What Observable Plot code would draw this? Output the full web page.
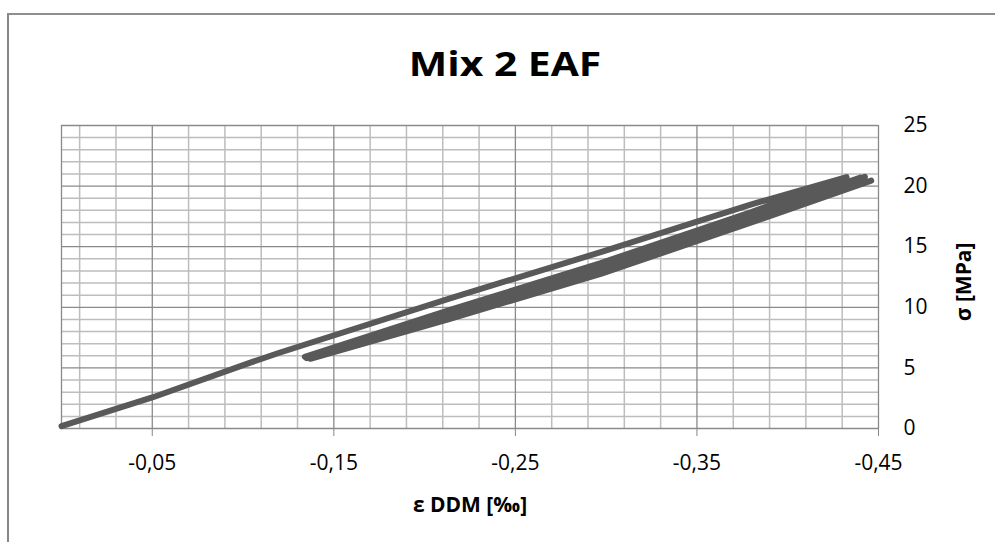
<!DOCTYPE html>
<html>
<head>
<meta charset="utf-8">
<script src="https://cdn.jsdelivr.net/npm/d3@7"></script>
<script src="https://cdn.jsdelivr.net/npm/@observablehq/plot@0.6"></script>
<style>
  html, body { margin: 0; padding: 0; background: #fff; overflow: hidden; width: 995px; height: 542px; }
  #frame { position: absolute; left: 7px; top: 13px; width: 1000px; height: 540px;
           border-left: 2px solid #878787; border-top: 2px solid #8e8e8e; z-index: 2; pointer-events: none; }
  #title { height: 100px; position: relative; }
  #title span { position: absolute; left: 505px; top: 46px; transform: translateX(-50%) scaleX(1.2);
                white-space: nowrap; font: bold 34px/34px "Open Sans", sans-serif; color: #000; }
</style>
</head>
<body>
<div id="frame"></div>
<div id="title"><span>Mix 2 EAF</span></div>
<div id="chart"></div>
<script>
// ---- data ----
const strain = [0, -0.05, -0.104, -0.12, -0.214, -0.297, -0.38, -0.4324,
  -0.38, -0.297, -0.214, -0.134,
  -0.135, -0.214, -0.297, -0.38, -0.440,
  -0.38, -0.297, -0.214, -0.136,
  -0.137, -0.214, -0.297, -0.38, -0.4425,
  -0.38, -0.297, -0.214, -0.138,
  -0.214, -0.297, -0.38, -0.446];
const stress = [0.2, 2.56, 5.43, 6.25, 10.74, 14.55, 18.5, 20.74,
  17.85, 13.65, 9.78, 5.92,
  5.8, 9.5, 13.35, 17.5, 20.7,
  17.6, 13.4, 9.55, 5.85,
  5.75, 9.25, 13.0, 17.3, 20.76,
  17.4, 13.1, 9.3, 5.78,
  9.05, 12.75, 17.0, 20.45];
const xTicks = [-0.05, -0.15, -0.25, -0.35, -0.45];
const yTicks = [0, 5, 10, 15, 20, 25];
const xTitle = "ε DDM [‰]";
const yTitle = "σ [MPa]";

const data = strain.map((e, i) => ({e, s: stress[i]}));
const xMinor = d3.range(-0.01, -0.455, -0.02).filter(v => !xTicks.some(t => Math.abs(t - v) < 1e-9));
const yMinor = d3.range(1, 25).filter(v => v % 5 !== 0);
const fmt = d => d.toFixed(2).replace(".", ",");

const minor = {stroke: "#bdbdbd", strokeWidth: 1.5};
const major = {stroke: "#8a8a8a", strokeWidth: 1.3};

const chart = Plot.plot({
  width: 995,
  height: 442,
  marginTop: 25,
  marginBottom: 114,
  marginLeft: 61,
  marginRight: 117,
  style: {fontFamily: "'Open Sans', sans-serif", fontSize: "21px", color: "#000", background: "transparent", overflow: "visible"},
  x: {domain: [0, -0.45], ticks: xTicks, tickFormat: fmt, tickSize: 8, tickPadding: 19, label: null},
  y: {domain: [0, 25], axis: "right", ticks: yTicks, tickSize: 0, tickPadding: 25, label: null},
  marks: [
    Plot.ruleX(xMinor, minor),
    Plot.ruleY(yMinor, minor),
    Plot.ruleX(xTicks, major),
    Plot.ruleY(yTicks, major),
    Plot.ruleX([0], major),
    Plot.line(data, {x: "e", y: "s", stroke: "#595959", strokeWidth: 6, strokeLinejoin: "round", strokeLinecap: "round"}),
    Plot.text([xTitle], {text: d => d, frameAnchor: "bottom", dy: 77, fontWeight: "bold", fontSize: 21, lineAnchor: "middle", fill: "#000"}),
    Plot.text([yTitle], {text: d => d, frameAnchor: "right", dx: 86, dy: -34.5, rotate: -90, fontWeight: "bold", fontSize: 21, fill: "#000"})
  ]
});
chart.querySelectorAll("g[aria-label*='axis']").forEach(g => { g.setAttribute("font-size", "21"); g.style.fontSize = "21px"; });
chart.querySelectorAll("g[aria-label*='axis'] text").forEach(t => { t.style.fontSize = "21px"; });
chart.querySelectorAll("g[aria-label*='x-axis'] line, g[aria-label*='x-axis'] path").forEach(el => el.setAttribute("stroke", "#868686"));
document.getElementById("chart").appendChild(chart);
</script>
</body>
</html>
